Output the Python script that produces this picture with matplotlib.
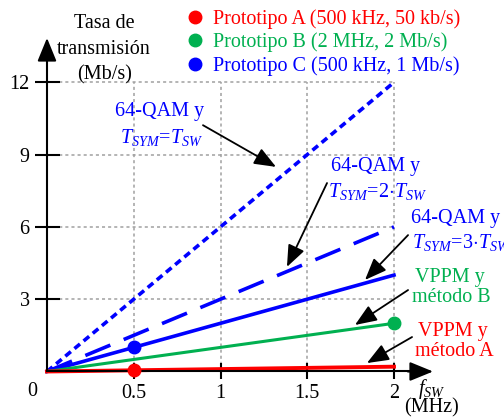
import matplotlib
matplotlib.use("Agg")
import matplotlib.pyplot as plt
from matplotlib.lines import Line2D

plt.rcParams['font.family'] = ['Liberation Serif', 'DejaVu Serif']
plt.rcParams['mathtext.fontset'] = 'custom'
plt.rcParams['mathtext.rm'] = 'Liberation Serif'
plt.rcParams['mathtext.it'] = 'Liberation Serif:italic'

# ---------------- data ----------------
f_mhz = [0, 2]
rate_qam_t1 = [0, 12]      # 64-QAM, T_SYM = T_SW
rate_qam_t2 = [0, 6]       # 64-QAM, T_SYM = 2 T_SW
rate_qam_t3 = [0, 4]       # 64-QAM, T_SYM = 3 T_SW
rate_vppm_b = [0, 2]       # VPPM, method B
rate_vppm_a = [0, 0.2]     # VPPM, method A

proto_labels = ['Prototipo A (500 kHz, 50 kb/s)',
                'Prototipo B (2 MHz, 2 Mb/s)',
                'Prototipo C (500 kHz, 1 Mb/s)']
proto_f = [0.5, 2, 0.5]
proto_rate = [0.05, 2, 1]

xticks = [0.5, 1, 1.5, 2]
xticklabels = ['0.5', '1', '1.5', '2']
yticks = [3, 6, 9, 12]
yticklabels = ['3', '6', '9', '12']

RED = '#FF0000'
GREEN = '#00B050'
BLUE = '#0000FF'
proto_colors = [RED, GREEN, BLUE]
FS = 14.5

# ---------------- figure ----------------
fig = plt.figure(figsize=(5.04, 4.17), dpi=100)
ax = fig.add_axes([0, 0, 1, 1])
ax.set_xlim(-0.2709, 2.634)
ax.set_ylim(-1.888, 15.415)
ax.patch.set_alpha(0)

# grid (dotted, boxed 0..2 x 0..12)
ax.hlines(yticks, 0, xticks[-1], colors='#A0A0A0', lw=1.1,
          linestyles=(0, (2, 2)), zorder=1)
ax.vlines(xticks, 0, yticks[-1], colors='#A0A0A0', lw=1.1,
          linestyles=(0, (2, 2)), zorder=1)

# lines
ax.plot(f_mhz, rate_qam_t1, color=BLUE, lw=2.6, ls=(0, (2.0, 1.3)), zorder=3)
ax.plot(f_mhz, rate_qam_t2, color=BLUE, lw=2.6, ls=(0, (7.5, 4)), zorder=3)
ax.plot(f_mhz, rate_qam_t3, color=BLUE, lw=2.6, zorder=3)
ax.plot(f_mhz, rate_vppm_b, color=GREEN, lw=2.2, zorder=3)
ax.plot(f_mhz, rate_vppm_a, color=RED, lw=2.8, zorder=3)

# prototypes
for fx, ry, c in zip(proto_f, proto_rate, proto_colors):
    ax.plot([fx], [ry], 'o', color=c, ms=9, zorder=5, clip_on=False)

# axes (spines at data 0 with arrow heads)
for s in ['top', 'right']:
    ax.spines[s].set_visible(False)
ax.spines['left'].set_position(('data', 0))
ax.spines['bottom'].set_position(('data', 0))
ax.spines['left'].set_bounds(0, 13.2)
ax.spines['bottom'].set_bounds(0, 2.15)
for s in ['left', 'bottom']:
    ax.spines[s].set_linewidth(1.5)
    ax.spines[s].set_zorder(4)
ax.annotate('', xy=(0, 13.84), xytext=(0, 12.9),
            arrowprops=dict(arrowstyle='-|>,head_length=1.1,head_width=0.45',
                            color='black', lw=1.5, mutation_scale=13,
                            shrinkA=0, shrinkB=0))
ax.annotate('', xy=(2.225, 0), xytext=(2.08, 0),
            arrowprops=dict(arrowstyle='-|>,head_length=1.1,head_width=0.45',
                            color='black', lw=1.5, mutation_scale=13,
                            shrinkA=0, shrinkB=0))

ax.set_xticks(xticks)
ax.set_xticklabels(xticklabels)
ax.set_yticks(yticks)
ax.set_yticklabels(yticklabels)
ax.tick_params(axis='y', direction='inout', length=18, width=1.5,
               labelsize=FS, pad=3.5)
ax.tick_params(axis='x', direction='inout', length=11.5, width=1.5,
               labelsize=FS, pad=3.5)
ax.text(-0.086, -0.45, '0', fontsize=FS, ha='center', va='top')

# axis titles
ax.text(0.329, 14.45, 'Tasa de', fontsize=FS, ha='center', va='center')
ax.text(0.329, 13.36, 'transmisión', fontsize=FS, ha='center', va='center')
ax.text(0.329, 12.30, '(Mb/s)', fontsize=FS, ha='center', va='center')
ax.text(2.219, -0.72, r'$f_{SW}$', fontsize=FS, ha='center', va='center')
ax.text(2.219, -1.52, '(MHz)', fontsize=FS, ha='center', va='center')

# annotations
arrow_kw = dict(arrowstyle='-|>,head_length=0.95,head_width=0.38',
                color='black', lw=1.3, mutation_scale=14,
                shrinkA=0, shrinkB=0)

ax.text(0.651, 10.77, '64-QAM y', color=BLUE, fontsize=FS, ha='center', va='center')
ax.text(0.663, 9.73, r'$T_{SYM}\!=\!T_{SW}$', color=BLUE, fontsize=FS, ha='center', va='center')
ax.annotate('', xy=(1.32, 8.49), xytext=(0.899, 10.22), arrowprops=arrow_kw)

ax.text(1.896, 8.49, '64-QAM y', color=BLUE, fontsize=FS, ha='center', va='center')
ax.text(1.908, 7.45, r'$T_{SYM}\!=\!2{\cdot}T_{SW}$', color=BLUE, fontsize=FS, ha='center', va='center')
ax.annotate('', xy=(1.383, 4.34), xytext=(1.614, 7.82), arrowprops=arrow_kw)

ax.text(2.352, 6.34, '64-QAM y', color=BLUE, fontsize=FS, ha='center', va='center')
ax.text(2.104, 5.37, r'$T_{SYM}\!=\!3{\cdot}T_{SW}$', color=BLUE, fontsize=FS, ha='left', va='center')
ax.annotate('', xy=(1.833, 3.80), xytext=(2.081, 5.66), arrowprops=arrow_kw)

ax.text(2.323, 3.92, 'VPPM y', color=GREEN, fontsize=FS, ha='center', va='center')
ax.text(2.329, 3.05, 'método B', color=GREEN, fontsize=FS, ha='center', va='center')
ax.annotate('', xy=(1.775, 1.93), xytext=(2.081, 3.38), arrowprops=arrow_kw)

ax.text(2.340, 1.64, 'VPPM y', color=RED, fontsize=FS, ha='center', va='center')
ax.text(2.346, 0.81, 'método A', color=RED, fontsize=FS, ha='center', va='center')
ax.annotate('', xy=(1.844, 0.35), xytext=(2.104, 1.43), arrowprops=arrow_kw)

# legend
handles = [Line2D([], [], marker='o', ls='none', color=c, ms=9) for c in proto_colors]
leg = ax.legend(handles, proto_labels, loc='upper left',
                bbox_to_anchor=(187 / 504, 1 - 9 / 417), bbox_transform=fig.transFigure,
                frameon=False, fontsize=FS, borderpad=0, handlelength=0.8,
                handletextpad=0.5, labelspacing=0.2, borderaxespad=0)
for t, c in zip(leg.get_texts(), proto_colors):
    t.set_color(c)

fig.savefig('out.png', dpi=100)
